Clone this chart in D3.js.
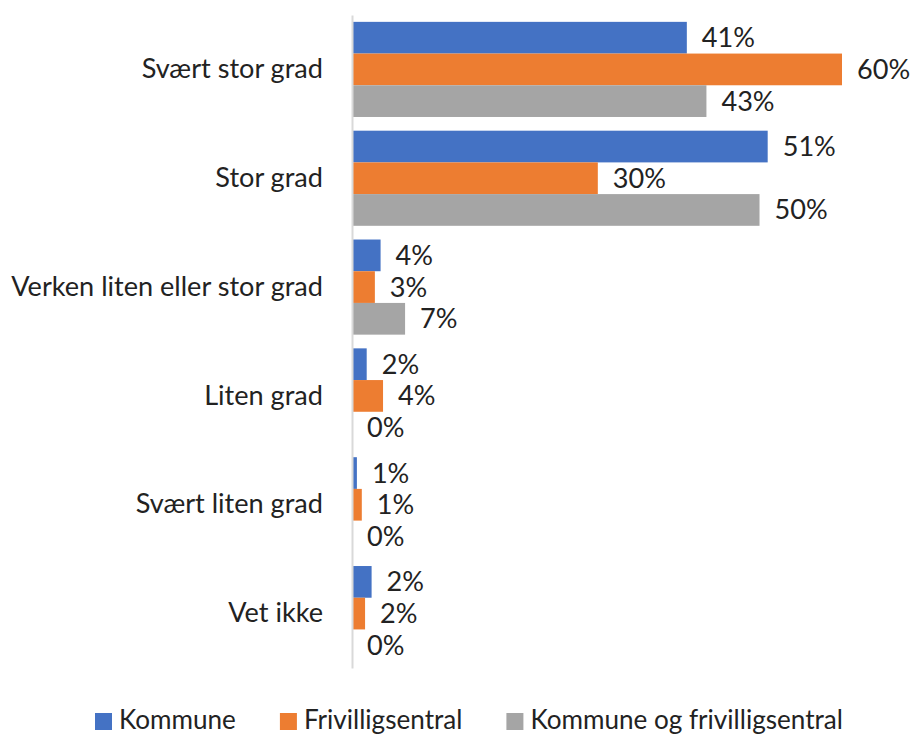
<!DOCTYPE html>
<html>
<head>
<meta charset="utf-8">
<script src="https://cdn.jsdelivr.net/npm/d3@7"></script>
<style>
html,body{margin:0;padding:0;background:#fff;}
svg{display:block;}
text{font-family:Lato,"Open Sans",sans-serif;font-weight:400;fill:#222;}
</style>
</head>
<body>
<svg id="chart" width="911" height="735"></svg>
<script>
const categories = ["Svært stor grad","Stor grad","Verken liten eller stor grad","Liten grad","Svært liten grad","Vet ikke"];
const seriesNames = ["Kommune","Frivilligsentral","Kommune og frivilligsentral"];
const kommune = [41, 50.9, 3.5, 1.8, 0.6, 2.4];
const frivilligsentral = [60, 30.1, 2.8, 3.8, 1.2, 1.6];
const begge = [43.4, 49.9, 6.5, 0, 0, 0];
const colors = ["#4472C4","#ED7D31","#A5A5A5"];

const series = [kommune, frivilligsentral, begge];
const svg = d3.select("#chart");

// fit font size so the longest category label matches the reference width
const probe = svg.append("text").style("font-size", "100px").text(categories[2]);
const fontSize = Math.round(100 * 312 / probe.node().getComputedTextLength() * 10) / 10;
probe.remove();

const x = d3.scaleLinear().domain([0, 60]).range([352, 842]);
const y = d3.scaleBand().domain(categories).range([15, 668]).paddingInner(0.126).paddingOuter(0.063);
const ySub = d3.scaleBand().domain(d3.range(3)).range([0, y.bandwidth()]);

const rows = [];
categories.forEach((c, i) => series.forEach((s, j) => rows.push({cat: c, j, v: s[i]})));

// bars
svg.append("g").selectAll("rect").data(rows).join("rect")
  .attr("x", x(0))
  .attr("y", d => y(d.cat) + ySub(d.j))
  .attr("width", d => x(d.v) - x(0))
  .attr("height", ySub.bandwidth())
  .attr("fill", d => colors[d.j]);

// axis line
const yAxis = d3.axisLeft(y).tickSize(0).tickPadding(29).tickSizeOuter(0);
const ag = svg.append("g").attr("transform", `translate(${x(0)},0)`).call(yAxis);
ag.select(".domain").attr("stroke", "#d9d9d9").attr("stroke-width", 2);
ag.selectAll("text").style("font-size", fontSize + "px").attr("fill", "#222")
  .style("font-family", 'Lato,"Open Sans",sans-serif').style("font-weight", 400);

// data labels
const fmt = v => Math.round(v) + "%";
svg.append("g").selectAll("text").data(rows).join("text")
  .attr("x", d => x(d.v) + 15)
  .attr("y", d => y(d.cat) + ySub(d.j) + ySub.bandwidth() / 2)
  .attr("dy", "0.35em")
  .style("font-size", fontSize + "px")
  .text(d => fmt(d.v));

// legend
const legendSize = fontSize - 1;
const lg = svg.append("g");
let lx = 95;
seriesNames.forEach((n, i) => {
  lg.append("rect").attr("x", lx).attr("y", 713).attr("width", 17).attr("height", 17).attr("fill", colors[i]);
  const t = lg.append("text").attr("x", lx + 24).attr("y", 729).style("font-size", legendSize + "px").text(n);
  lx += 24 + t.node().getComputedTextLength() + 44;
});
</script>
</body>
</html>
